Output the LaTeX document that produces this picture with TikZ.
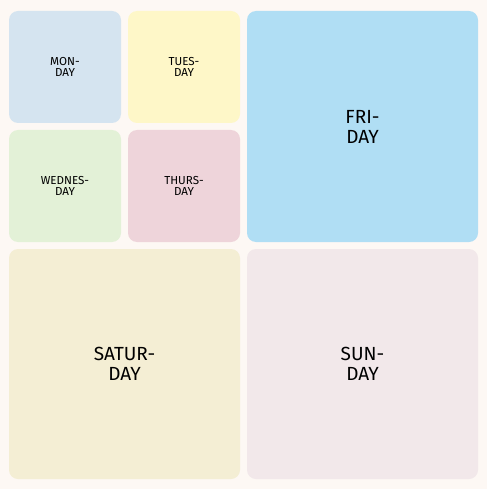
\documentclass[tikz,border=0pt]{standalone}
\usepackage{fontspec}
\setmainfont{Fira Sans}
\definecolor{bgc}{HTML}{FDF8F4}
\definecolor{monc}{HTML}{D5E4F0}
\definecolor{tuec}{HTML}{FEF7C8}
\definecolor{wedc}{HTML}{E3F1D7}
\definecolor{thuc}{HTML}{EED4DA}
\definecolor{fric}{HTML}{B0DEF4}
\definecolor{satc}{HTML}{F4EED4}
\definecolor{sunc}{HTML}{F2E8EA}
\begin{document}
\begin{tikzpicture}[x=1pt,y=-1pt,
  daybox/.style={rounded corners=9pt, inner sep=0pt, outer sep=0pt, align=center, text=black},
  smallday/.style={daybox, minimum width=112pt, minimum height=112pt, font=\fontsize{11.6}{11.5}\selectfont},
  bigday/.style={daybox, minimum width=231pt, minimum height=230pt, font=\fontsize{19}{20}\selectfont}]
\fill[bgc] (0,0) rectangle (487,489);
\useasboundingbox (0,0) rectangle (487,489);
\node[smallday, fill=monc] (mon) at (65,67) {MON-\\DAY};
\node[smallday, fill=tuec] (tue) at (184,67) {TUES-\\DAY};
\node[smallday, fill=wedc] (wed) at (65,186) {WEDNES-\\DAY};
\node[smallday, fill=thuc] (thu) at (184,186) {THURS-\\DAY};
\node[bigday, minimum height=231pt, fill=fric] (fri) at (362.5,126.5) {FRI-\\DAY};
\node[bigday, fill=satc] (sat) at (124.5,364) {SATUR-\\DAY};
\node[bigday, fill=sunc] (sun) at (362.5,364) {SUN-\\DAY};
\end{tikzpicture}
\end{document}
